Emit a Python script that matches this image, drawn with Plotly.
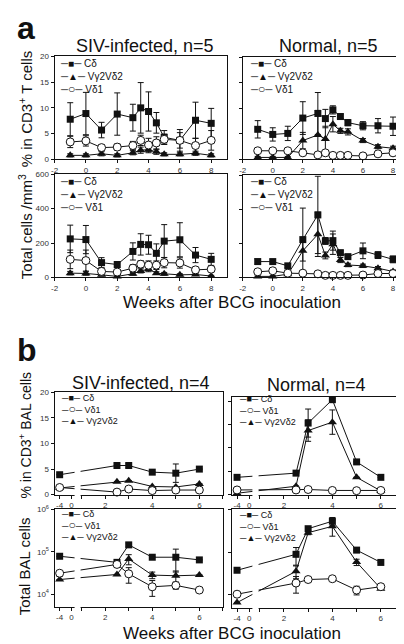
import plotly.graph_objects as go

# ---------------- data ----------------
# Panel a: blood, weeks after BCG
weeks_a = [-1, 0, 1, 2, 3, 3.5, 4, 4.5, 5, 6, 7, 8]

siv_pct_cd = [7.8, 8.9, 5.7, 8.8, 8.1, 10.0, 9.3, 7.1, 4.3, 3.7, 7.6, 7.0]
siv_pct_cd_err = [3.2, 4.1, 1.5, 4.1, 2.6, 4.9, 3.8, 2.0, 1.3, 2.1, 3.5, 2.9]
siv_pct_v2 = [0.8, 0.8, 1.1, 0.8, 1.3, 1.8, 1.9, 1.5, 1.0, 1.0, 1.2, 0.8]
siv_pct_v2_err = [0.3, 0.3, 0.4, 0.3, 0.4, 0.6, 0.6, 0.5, 0.3, 0.3, 0.4, 0.3]
siv_pct_v1 = [3.4, 3.6, 2.3, 2.4, 2.7, 3.7, 2.8, 3.2, 3.9, 3.7, 2.7, 3.7]
siv_pct_v1_err = [1.1, 1.0, 0.6, 0.6, 0.8, 1.0, 1.3, 1.2, 1.0, 1.5, 1.4, 1.9]

nor_pct_cd = [5.9, 4.9, 5.1, 8.1, 9.0, 8.0, 9.7, 8.4, 7.2, 6.6, 6.6, 6.5]
nor_pct_cd_err = [1.7, 1.3, 1.4, 3.2, 4.1, 1.8, 0.8, 0.5, 0.6, 0.8, 1.4, 1.8]
nor_pct_v2 = [0.4, 0.4, 0.4, 3.7, 4.8, 4.0, 6.9, 5.6, 5.4, 3.7, 2.5, 2.2]
nor_pct_v2_err = [0.2, 0.2, 0.2, 1.6, 4.8, 2.5, 1.5, 0.5, 0.6, 0.4, 0.4, 0.4]
nor_pct_v1 = [1.7, 1.7, 1.7, 1.3, 0.9, 1.3, 0.8, 0.8, 0.8, 0.7, 1.1, 1.3]
nor_pct_v1_err = [0.3, 0.3, 0.3, 0.3, 0.2, 0.3, 0.2, 0.2, 0.2, 0.2, 0.3, 0.3]

siv_cnt_cd = [224, 220, 86, 75, 151, 192, 190, 140, 211, 219, 130, 105]
siv_cnt_cd_err = [80, 82, 29, 17, 50, 62, 55, 55, 96, 99, 44, 35]
siv_cnt_v2 = [25, 23, 15, 6, 21, 38, 48, 25, 21, 15, 17, 8]
siv_cnt_v2_err = [10, 10, 6, 4, 8, 12, 15, 8, 8, 6, 6, 4]
siv_cnt_v1 = [105, 98, 35, 31, 54, 77, 71, 71, 86, 84, 44, 48]
siv_cnt_v1_err = [54, 61, 15, 12, 20, 20, 25, 25, 30, 30, 15, 15]

nor_cnt_cd = [93, 93, 68, 222, 367, 214, 216, 145, 122, 156, 131, 106]
nor_cnt_cd_err = [15, 10, 10, 185, 227, 20, 56, 15, 10, 46, 20, 20]
nor_cnt_v2 = [6, 6, 19, 156, 253, 129, 195, 102, 73, 68, 54, 35]
nor_cnt_v2_err = [4, 4, 6, 60, 130, 20, 60, 15, 10, 10, 10, 8]
nor_cnt_v1 = [33, 39, 25, 25, 21, 12, 12, 12, 12, 14, 23, 23]
nor_cnt_v1_err = [8, 8, 6, 6, 5, 4, 4, 4, 4, 4, 6, 6]

# Panel b: BAL, weeks after BCG
weeks_b = [-4, 2.5, 3, 4, 5, 6]

siv_bal_pct_cd = [3.9, 5.7, 5.7, 4.4, 4.2, 5.0]
siv_bal_pct_cd_err = [0, 0, 0.4, 0, 1.8, 0]
siv_bal_pct_v1 = [1.4, 0.5, 1.1, 0.8, 0.9, 0.9]
siv_bal_pct_v1_err = [0, 0, 0, 0, 0, 0]
siv_bal_pct_v2 = [1.3, 2.5, 2.7, 1.6, 1.5, 2.1]
siv_bal_pct_v2_err = [0, 0, 0, 0, 0, 0]

nor_bal_pct_cd = [3.7, 4.6, 15.3, 20.3, 7.0, 3.7]
nor_bal_pct_cd_err = [0, 0, 3.0, 0.3, 0, 0]
nor_bal_pct_v1 = [1.0, 1.0, 1.1, 0.9, 0.85, 0.9]
nor_bal_pct_v1_err = [0, 0, 0, 0, 0, 0]
nor_bal_pct_v2 = [0.3, 1.8, 13.7, 15.5, 3.7, 0.8]
nor_bal_pct_v2_err = [0, 0, 2.3, 2.6, 0, 0]

siv_bal_cnt_cd = [7.8e4, 5.6e4, 1.45e5, 7.4e4, 7.4e4, 6.4e4]
siv_bal_cnt_cd_err = [0, 0, 1.5e4, 0, 4.1e4, 0]
siv_bal_cnt_v1 = [3.1e4, 5.0e4, 3.0e4, 1.48e4, 1.6e4, 1.24e4]
siv_bal_cnt_v1_err = [5e3, 0, 1.2e4, 6e3, 3e3, 0]
siv_bal_cnt_v2 = [2.2e4, 2.9e4, 6.7e4, 2.8e4, 2.7e4, 2.8e4]
siv_bal_cnt_v2_err = [0, 0, 1.8e4, 5e3, 8e3, 0]

nor_bal_cnt_cd = [3.8e4, 9.0e4, 3.6e5, 5.4e5, 1.13e5, 5.8e4]
nor_bal_cnt_cd_err = [0, 4e4, 4e4, 1.2e5, 0, 0]
nor_bal_cnt_v1 = [1.04e4, 1.9e4, 2.3e4, 2.4e4, 1.3e4, 1.56e4]
nor_bal_cnt_v1_err = [0, 8e3, 0, 0, 3e3, 0]
nor_bal_cnt_v2 = [6.6e3, 3.6e4, 2.9e5, 4.1e5, 5.9e4, 1.4e4]
nor_bal_cnt_v2_err = [0, 1.2e4, 3e4, 1.7e5, 1e4, 0]

ticks_a = [-2, 0, 2, 4, 6, 8]
ticks_b_pre = [-4, 0]
ticks_b_post = [2, 4, 6]
minor_b = [1, 3, 5, 7]

# ---------------- styling / layout helpers ----------------
W, H = 404, 644
FONT = "Liberation Sans, Arial, Helvetica, sans-serif"
INK = "#111111"

def dx(a, b):
    return [a / W, b / W]

def dy(top, bottom):
    return [1 - bottom / H, 1 - top / H]

# broken x axis of panel b: pre-BCG weeks are compressed into a short segment
SEG1_ORIGIN = 0.57
SEG1_SCALE = 0.126

def brk(w):
    return w if w >= 1 else SEG1_ORIGIN + SEG1_SCALE * w

STYLE = {
    "cd": dict(symbol="square", size=7, color=INK, line=dict(width=0)),
    "v2": dict(symbol="triangle-up", size=8, color=INK, line=dict(width=0)),
    "v1": dict(symbol="circle", size=8, color="white", line=dict(width=1, color=INK)),
}

fig = go.Figure()

def add(xs, ys, err, key, n):
    s = "" if n == 1 else str(n)
    fig.add_trace(go.Scatter(
        x=xs, y=ys, mode="lines+markers", xaxis="x" + s, yaxis="y" + s,
        line=dict(color=INK, width=1), marker=STYLE[key],
        error_y=dict(type="data", array=err, visible=True, color=INK, thickness=1, width=3),
        showlegend=False, cliponaxis=False, hoverinfo="x+y"))

xb = [brk(w) for w in weeks_b]

# panel a
add(weeks_a, siv_pct_cd, siv_pct_cd_err, "cd", 1)
add(weeks_a, siv_pct_v2, siv_pct_v2_err, "v2", 1)
add(weeks_a, siv_pct_v1, siv_pct_v1_err, "v1", 1)
add(weeks_a, nor_pct_cd, nor_pct_cd_err, "cd", 2)
add(weeks_a, nor_pct_v2, nor_pct_v2_err, "v2", 2)
add(weeks_a, nor_pct_v1, nor_pct_v1_err, "v1", 2)
add(weeks_a, siv_cnt_cd, siv_cnt_cd_err, "cd", 3)
add(weeks_a, siv_cnt_v2, siv_cnt_v2_err, "v2", 3)
add(weeks_a, siv_cnt_v1, siv_cnt_v1_err, "v1", 3)
add(weeks_a, nor_cnt_cd, nor_cnt_cd_err, "cd", 4)
add(weeks_a, nor_cnt_v2, nor_cnt_v2_err, "v2", 4)
add(weeks_a, nor_cnt_v1, nor_cnt_v1_err, "v1", 4)
# panel b
add(xb, siv_bal_pct_cd, siv_bal_pct_cd_err, "cd", 5)
add(xb, siv_bal_pct_v2, siv_bal_pct_v2_err, "v2", 5)
add(xb, siv_bal_pct_v1, siv_bal_pct_v1_err, "v1", 5)
add(xb, nor_bal_pct_cd, nor_bal_pct_cd_err, "cd", 6)
add(xb, nor_bal_pct_v2, nor_bal_pct_v2_err, "v2", 6)
add(xb, nor_bal_pct_v1, nor_bal_pct_v1_err, "v1", 6)
add(xb, siv_bal_cnt_cd, siv_bal_cnt_cd_err, "cd", 7)
add(xb, siv_bal_cnt_v2, siv_bal_cnt_v2_err, "v2", 7)
add(xb, siv_bal_cnt_v1, siv_bal_cnt_v1_err, "v1", 7)
add(xb, nor_bal_cnt_cd, nor_bal_cnt_cd_err, "cd", 8)
add(xb, nor_bal_cnt_v2, nor_bal_cnt_v2_err, "v2", 8)
add(xb, nor_bal_cnt_v1, nor_bal_cnt_v1_err, "v1", 8)

base_ax = dict(showline=True, linecolor=INK, linewidth=1, mirror=True, ticks="outside",
               ticklen=3, tickwidth=1, tickcolor=INK, showgrid=False, zeroline=False,
               tickfont=dict(size=8, color="#333", family=FONT))

xa_a = dict(base_ax, range=[-2, 9], tickvals=ticks_a, ticktext=[str(t) for t in ticks_a])
tv_b = [brk(t) for t in ticks_b_pre] + ticks_b_post
tt_b = [str(t) for t in ticks_b_pre + ticks_b_post]
xa_b = dict(base_ax, range=[-0.15, 7.0], tickvals=tv_b, ticktext=tt_b,
            minor=dict(tickvals=minor_b, ticks="outside", ticklen=3, tickwidth=1,
                       tickcolor=INK, showgrid=False))

layout = dict(width=W, height=H, margin=dict(l=0, r=0, t=0, b=0),
              paper_bgcolor="white", plot_bgcolor="white",
              font=dict(family=FONT, color=INK), showlegend=False)

boxes = {
    1: (43, 217, 43, 148), 2: (233, 400, 44, 148),
    3: (43, 217, 163, 268), 4: (233, 400, 164, 268),
    5: (43, 213, 385, 489), 6: (222, 397, 390, 489),
    7: (43, 213, 504, 603), 8: (222, 397, 504, 604),
}
for n, (x0, x1, y0, y1) in boxes.items():
    s = "" if n == 1 else str(n)
    xa = dict(xa_a if n <= 4 else xa_b, domain=dx(x0, x1), anchor="y" + s)
    layout["xaxis" + s] = xa

pct_ticks = [0, 5, 10, 15, 20]
cnt_ticks = [0, 200, 400, 600]
log_ticks = [1e4, 1e5, 1e6]
log_text = ["10<sup>4</sup>", "10<sup>5</sup>", "10<sup>6</sup>"]

def yax(n, **kw):
    s = "" if n == 1 else str(n)
    x0, x1, y0, y1 = boxes[n]
    layout["yaxis" + s] = dict(base_ax, domain=dy(y0, y1), anchor="x" + s, **kw)

yax(1, range=[0, 20], tickvals=pct_ticks)
yax(2, range=[0, 20], tickvals=pct_ticks, showticklabels=False)
yax(3, range=[0, 600], tickvals=cnt_ticks)
yax(4, range=[0, 600], tickvals=cnt_ticks, showticklabels=False)
yax(5, range=[0, 20], tickvals=pct_ticks)
yax(6, range=[0, 20.8], tickvals=pct_ticks, showticklabels=False)
yax(7, type="log", range=[3.70, 6.0], tickvals=log_ticks, ticktext=log_text)
yax(8, type="log", range=[3.70, 6.01], tickvals=log_ticks, showticklabels=False)

fig.update_layout(**layout)

# gaps of the broken axes in panel b
for n in (5, 6, 7, 8):
    fig.add_shape(type="rect", xref="x%d" % n, yref="y%d domain" % n,
                  x0=0.70, x1=0.955, y0=-0.03, y1=0.975,
                  fillcolor="white", line=dict(width=0), layer="above")

def ann(text, x, y, size, **kw):
    kw.setdefault("xanchor", "center")
    kw.setdefault("yanchor", "middle")
    fig.add_annotation(text=text, x=x / W, y=1 - y / H, xref="paper", yref="paper",
                       showarrow=False, font=dict(size=size, family=FONT, color=INK), **kw)

# panel letters
ann("<b>a</b>", 3, 14, 32, xanchor="left")
ann("<b>b</b>", 3, 342, 32, xanchor="left")

# titles
ann("SIV-infected, n=5", 134, 33, 18)
ann("Normal, n=5", 320, 33, 18)
ann("SIV-infected, n=4", 130, 375, 18)
ann("Normal, n=4", 308, 377, 18)

# axis titles
ann("% in CD3<sup>+</sup> T cells", 13, 97, 15, textangle=-90)
ann("Total cells /mm<sup>3</sup>", 13, 216, 15, textangle=-90)
ann("Weeks after BCG inoculation", 222, 294, 17)
ann("% in CD3<sup>+</sup> BAL cells", 13, 428, 14, textangle=-90)
ann("Total BAL cells", 13, 562, 15, textangle=-90)
ann("Weeks after BCG inoculation", 222, 630, 17)

# in-plot keys
circ = '<span style="font-size:12px">○</span>'
key_a = "─■─ Cδ<br>─▲─ Vγ2Vδ2<br>─" + circ + "─ Vδ1"
key_b = "─■─ Cδ<br>─" + circ + "─ Vδ1<br>─▲─ Vγ2Vδ2"
for x, y in [(46, 43), (238, 43), (46, 163), (238, 163)]:
    ann(key_a, x, y, 10, xanchor="left", yanchor="top", align="left")
for x, y in [(47, 384), (227, 385), (47, 502), (227, 503)]:
    ann(key_b, x, y, 9, xanchor="left", yanchor="top", align="left")

fig.write_html("out.html")
